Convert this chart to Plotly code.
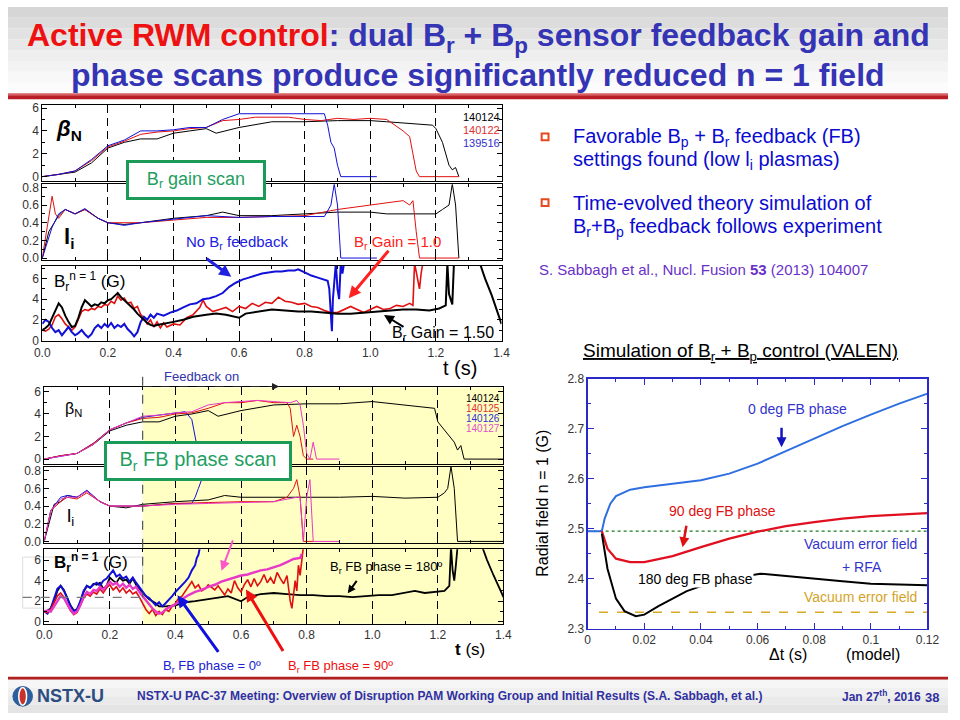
import plotly.graph_objects as go

W, H = 960, 720
def px(x): return x / W
def py(y): return 1 - y / H

SANS = "Liberation Sans, Arial, sans-serif"
NARROW = "Liberation Sans Narrow, Arial Narrow, Liberation Sans, sans-serif"

# ---------------- DATA ----------------
# Top group: Br gain scan
t_bn_a_140124 = [0, 0.05, 0.1, 0.15, 0.2, 0.25, 0.3, 0.35, 0.4, 0.45, 0.5, 0.53, 0.6, 0.7, 0.8, 0.9, 1.0, 1.05, 1.1, 1.15, 1.19, 1.2, 1.22, 1.24, 1.25, 1.26, 1.27]
bn_a_140124 = [0, 0.2, 0.4, 1.2, 2.5, 3.0, 3.3, 3.3, 3.8, 4.0, 4.2, 3.8, 4.3, 4.8, 4.8, 4.9, 4.9, 4.8, 4.7, 4.6, 4.5, 4.2, 3.0, 1.0, 0.6, 0.8, 0.0]
t_bn_a_140122 = [0, 0.05, 0.1, 0.15, 0.2, 0.25, 0.3, 0.35, 0.4, 0.45, 0.5, 0.55, 0.6, 0.65, 0.7, 0.75, 0.8, 0.85, 0.9, 0.95, 1.0, 1.05, 1.1, 1.12, 1.13, 1.14, 1.15, 1.27]
bn_a_140122 = [0, 0.2, 0.5, 1.4, 2.6, 3.1, 3.7, 3.9, 4.0, 4.2, 4.3, 4.9, 5.0, 5.2, 5.2, 5.2, 5.0, 4.9, 5.1, 5.0, 5.1, 5.0, 4.0, 3.5, 2.0, 0.5, 0.0, 0.0]
t_bn_a_139516 = [0, 0.05, 0.1, 0.15, 0.2, 0.25, 0.3, 0.35, 0.4, 0.45, 0.5, 0.55, 0.6, 0.65, 0.7, 0.75, 0.8, 0.86, 0.87, 0.88, 0.89, 0.9, 0.91, 1.02]
bn_a_139516 = [0, 0.2, 0.5, 1.5, 2.7, 3.2, 4.0, 4.0, 4.1, 4.3, 4.3, 5.0, 5.5, 5.5, 5.5, 5.5, 5.5, 5.5, 4.5, 3.0, 2.5, 1.0, 0.0, 0.0]

t_li_a_140124 = [0, 0.02, 0.05, 0.07, 0.1, 0.13, 0.17, 0.2, 0.25, 0.3, 0.4, 0.5, 0.55, 0.6, 0.7, 0.8, 0.9, 1.0, 1.05, 1.1, 1.2, 1.22, 1.24, 1.25, 1.26, 1.27]
li_a_140124 = [0, 0.3, 0.48, 0.55, 0.5, 0.55, 0.45, 0.4, 0.38, 0.4, 0.45, 0.48, 0.52, 0.48, 0.48, 0.5, 0.52, 0.52, 0.5, 0.5, 0.5, 0.55, 0.6, 0.84, 0.6, 0.0]
t_li_a_140122 = [0, 0.02, 0.03, 0.04, 0.05, 0.07, 0.1, 0.13, 0.17, 0.2, 0.3, 0.4, 0.5, 0.6, 0.7, 0.8, 0.9, 1.0, 1.05, 1.1, 1.12, 1.13, 1.14, 1.15, 1.27]
li_a_140122 = [0, 0.5, 0.7, 0.5, 0.45, 0.55, 0.5, 0.55, 0.45, 0.4, 0.4, 0.43, 0.46, 0.46, 0.47, 0.48, 0.55, 0.6, 0.62, 0.65, 0.6, 0.65, 0.3, 0.0, 0.0]
t_li_a_139516 = [0, 0.03, 0.05, 0.07, 0.1, 0.13, 0.17, 0.2, 0.25, 0.3, 0.4, 0.5, 0.6, 0.7, 0.86, 0.88, 0.89, 0.9, 0.91, 1.02]
li_a_139516 = [0, 0.35, 0.5, 0.55, 0.5, 0.56, 0.45, 0.4, 0.37, 0.4, 0.44, 0.48, 0.46, 0.47, 0.47, 0.6, 0.84, 0.6, 0.0, 0.0]

t_br_a_gain150 = [0.00, 0.01, 0.02, 0.03, 0.04, 0.05, 0.06, 0.07, 0.08, 0.09, 0.10, 0.11, 0.12, 0.13, 0.14, 0.15, 0.16, 0.17, 0.18, 0.19, 0.20, 0.21, 0.22, 0.23, 0.24, 0.25, 0.26, 0.27, 0.28, 0.29, 0.30, 0.31, 0.32, 0.33, 0.34, 0.35, 0.37, 0.40, 0.43, 0.46, 0.50, 0.53, 0.56, 0.60, 0.62, 0.66, 0.70, 0.74, 0.78, 0.82, 0.86, 0.90, 0.94, 0.98, 1.02, 1.06, 1.10, 1.14, 1.18, 1.21, 1.23, 1.235, 1.24, 1.25, 1.255, None, 1.335, 1.35, 1.37, 1.39, 1.40]
br_a_gain150 = [1.0, 1.2, 1.5, 2.2, 3.0, 3.6, 3.2, 2.4, 1.8, 1.3, 1.4, 2.2, 3.2, 3.9, 3.6, 3.3, 3.5, 3.4, 3.7, 3.6, 3.9, 4.0, 4.3, 4.6, 4.2, 3.9, 3.6, 3.4, 3.0, 2.6, 2.3, 2.0, 1.7, 1.5, 1.4, 1.5, 1.6, 1.8, 2.0, 2.3, 2.5, 2.6, 2.5, 2.2, 2.6, 2.8, 3.0, 2.9, 2.8, 2.8, 2.7, 2.6, 2.6, 2.7, 2.8, 2.9, 3.0, 3.0, 2.9, 3.1, 3.4, 7.5, 4.5, 3.5, 7.5, None, 7.4, 6.0, 4.4, 2.6, 1.6]
t_br_a_gain10 = [0.00, 0.01, 0.02, 0.03, 0.04, 0.05, 0.06, 0.07, 0.08, 0.09, 0.10, 0.11, 0.12, 0.13, 0.14, 0.15, 0.16, 0.17, 0.18, 0.19, 0.20, 0.21, 0.22, 0.23, 0.24, 0.25, 0.26, 0.27, 0.28, 0.29, 0.30, 0.31, 0.32, 0.33, 0.34, 0.35, 0.36, 0.37, 0.38, 0.40, 0.42, 0.44, 0.46, 0.48, 0.49, 0.50, 0.52, 0.54, 0.56, 0.58, 0.60, 0.62, 0.64, 0.66, 0.68, 0.70, 0.72, 0.74, 0.76, 0.78, 0.80, 0.82, 0.84, 0.86, 0.88, 0.90, 0.92, 0.94, 0.96, 0.98, 1.00, 1.02, 1.04, 1.06, 1.08, 1.10, 1.12, 1.13, 1.135, 1.145, 1.15, 1.155, 1.16]
br_a_gain10 = [1.0, 0.9, 1.1, 1.5, 2.3, 2.5, 2.1, 1.6, 1.3, 1.0, 1.3, 2.0, 2.8, 3.0, 2.9, 3.1, 3.0, 3.3, 3.2, 3.5, 3.4, 3.8, 3.6, 4.3, 3.9, 4.1, 3.6, 3.7, 3.1, 3.3, 2.5, 2.2, 1.6, 2.0, 1.3, 1.8, 1.2, 1.7, 1.3, 1.6, 1.5, 2.2, 2.5, 3.2, 3.9, 3.3, 2.8, 3.0, 3.2, 2.8, 3.3, 3.1, 3.6, 3.3, 3.7, 3.6, 4.2, 3.8, 3.7, 3.5, 3.6, 3.3, 3.2, 2.9, 2.7, 2.7, 3.0, 3.3, 3.0, 2.7, 3.0, 3.3, 3.0, 3.1, 3.4, 3.3, 3.6, 3.4, 7.5, 6.0, 5.0, 6.5, 7.5]
t_br_a_nofb = [0.00, 0.01, 0.02, 0.03, 0.04, 0.05, 0.06, 0.07, 0.08, 0.09, 0.10, 0.11, 0.12, 0.13, 0.14, 0.15, 0.16, 0.17, 0.18, 0.19, 0.20, 0.21, 0.22, 0.23, 0.24, 0.25, 0.26, 0.27, 0.28, 0.29, 0.30, 0.31, 0.32, 0.33, 0.34, 0.35, 0.37, 0.39, 0.41, 0.43, 0.45, 0.47, 0.49, 0.51, 0.53, 0.55, 0.57, 0.59, 0.61, 0.63, 0.65, 0.67, 0.69, 0.71, 0.73, 0.75, 0.77, 0.78, 0.80, 0.82, 0.84, 0.86, 0.87, 0.875, 0.88, 0.883, 0.886, 0.89, 0.895, 0.90, 0.905, 0.91, 0.915, 0.92]
br_a_nofb = [1.6, 2.0, 1.8, 1.2, 0.8, 1.0, 0.5, 0.9, 1.3, 0.8, 0.5, 0.7, 1.0, 0.6, 0.3, 0.6, 1.2, 1.5, 1.2, 1.6, 1.3, 1.7, 1.2, 1.5, 1.3, 1.6, 1.1, 0.8, 0.4, 0.8, 1.8, 2.3, 2.0, 2.5, 2.2, 2.6, 2.4, 2.7, 2.9, 3.2, 3.5, 3.6, 4.0, 4.1, 4.3, 4.6, 5.2, 5.6, 5.9, 6.1, 6.3, 6.5, 6.6, 6.7, 6.7, 6.8, 6.8, 6.9, 6.6, 6.3, 6.1, 5.9, 5.8, 5.0, 2.6, 0.9, 4.0, 5.5, 7.5, 5.0, 4.0, 7.5, 6.5, 7.5]

# Bottom group: Br FB phase scan
t_bn_b_140124 = [0, 0.05, 0.1, 0.15, 0.2, 0.25, 0.3, 0.35, 0.4, 0.45, 0.5, 0.53, 0.6, 0.7, 0.8, 0.9, 1.0, 1.1, 1.19, 1.2, 1.25, 1.26, 1.27, 1.28, 1.4]
bn_b_140124 = [0, 0.3, 0.5, 1.3, 2.5, 3.0, 3.3, 3.3, 3.8, 4.0, 4.3, 3.8, 4.3, 4.8, 4.9, 4.9, 5.1, 4.8, 4.5, 3.3, 1.5, 0.8, 1.2, 0.0, 0.0]
t_bn_b_140125 = [0, 0.05, 0.1, 0.15, 0.2, 0.25, 0.3, 0.35, 0.4, 0.45, 0.5, 0.55, 0.6, 0.65, 0.7, 0.74, 0.75, 0.76, 0.77, 0.78, 0.79, 0.8, 0.82]
bn_b_140125 = [0, 0.3, 0.5, 1.4, 2.6, 3.2, 3.6, 3.7, 4.0, 4.1, 4.5, 5.0, 5.0, 5.2, 5.0, 5.0, 4.5, 2.0, 3.0, 2.0, 0.3, 0.0, 0.0]
t_bn_b_140126 = [0, 0.1, 0.15, 0.2, 0.25, 0.3, 0.35, 0.4, 0.43, 0.45, 0.46, 0.47, 0.48]
bn_b_140126 = [0, 0.5, 1.4, 2.6, 3.2, 3.7, 3.9, 4.1, 4.2, 3.5, 2.0, 0.5, -1.0]
t_bn_b_140127 = [0, 0.1, 0.15, 0.2, 0.25, 0.3, 0.35, 0.4, 0.45, 0.5, 0.55, 0.6, 0.65, 0.7, 0.75, 0.77, 0.78, 0.79, 0.8, 0.81, 0.82, 0.83, 0.9]
bn_b_140127 = [0, 0.5, 1.3, 2.6, 3.2, 3.8, 3.9, 4.1, 4.2, 4.8, 5.0, 5.1, 5.2, 5.1, 5.0, 5.2, 4.8, 3.0, 0.5, 0.0, 1.5, 0.0, 0.0]

t_li_b_140124 = [0, 0.02, 0.03, 0.05, 0.07, 0.1, 0.13, 0.17, 0.2, 0.25, 0.3, 0.4, 0.5, 0.55, 0.6, 0.7, 0.8, 0.9, 1.0, 1.05, 1.1, 1.2, 1.22, 1.23, 1.24, 1.25, 1.26, 1.4]
li_b_140124 = [0, 0.3, 0.42, 0.45, 0.52, 0.5, 0.57, 0.45, 0.4, 0.38, 0.42, 0.45, 0.47, 0.52, 0.5, 0.5, 0.5, 0.5, 0.51, 0.5, 0.49, 0.5, 0.55, 0.6, 0.85, 0.6, 0.0, 0.0]
t_li_b_140125 = [0, 0.02, 0.05, 0.07, 0.1, 0.13, 0.17, 0.2, 0.3, 0.4, 0.5, 0.6, 0.7, 0.74, 0.76, 0.77, 0.78, 0.79, 0.82]
li_b_140125 = [0, 0.35, 0.45, 0.5, 0.48, 0.55, 0.45, 0.4, 0.4, 0.43, 0.44, 0.45, 0.45, 0.5, 0.6, 0.7, 0.5, 0.0, 0.0]
t_li_b_140126 = [0, 0.02, 0.05, 0.07, 0.1, 0.13, 0.17, 0.2, 0.3, 0.4, 0.45, 0.46, 0.47, 0.48, 0.485]
li_b_140126 = [0, 0.35, 0.5, 0.52, 0.5, 0.58, 0.45, 0.4, 0.4, 0.43, 0.43, 0.5, 0.6, 0.7, 0.9]
t_li_b_140127 = [0, 0.02, 0.05, 0.07, 0.1, 0.13, 0.17, 0.2, 0.3, 0.4, 0.5, 0.6, 0.7, 0.77, 0.78, 0.79, 0.8, 0.81, 0.82, 0.9]
li_b_140127 = [0, 0.35, 0.48, 0.5, 0.5, 0.57, 0.45, 0.4, 0.4, 0.42, 0.43, 0.44, 0.45, 0.5, 0.5, 0.0, 0.5, 0.7, 0.0, 0.0]

t_br_b_180 = [0.00, 0.01, 0.02, 0.03, 0.04, 0.05, 0.06, 0.07, 0.08, 0.09, 0.10, 0.11, 0.12, 0.13, 0.14, 0.15, 0.16, 0.17, 0.18, 0.19, 0.20, 0.21, 0.22, 0.23, 0.24, 0.25, 0.26, 0.27, 0.28, 0.29, 0.30, 0.31, 0.32, 0.33, 0.34, 0.35, 0.37, 0.40, 0.43, 0.46, 0.50, 0.53, 0.56, 0.60, 0.62, 0.66, 0.70, 0.74, 0.78, 0.82, 0.86, 0.90, 0.94, 0.98, 1.02, 1.06, 1.10, 1.13, 1.16, 1.19, 1.22, 1.235, 1.24, 1.245, 1.25, 1.255, 1.26, None, 1.335, 1.35, 1.37, 1.39, 1.40]
br_b_180 = [1.0, 1.1, 1.3, 2.0, 3.0, 3.5, 3.1, 2.4, 1.6, 1.1, 1.2, 1.9, 2.9, 3.5, 3.3, 3.7, 3.6, 3.8, 3.2, 3.5, 4.3, 4.0, 3.8, 4.3, 4.0, 4.1, 3.7, 4.2, 3.6, 3.2, 2.8, 2.5, 2.2, 2.0, 1.8, 1.5, 1.5, 1.6, 1.9, 2.0, 2.2, 2.3, 2.5, 2.0, 2.4, 2.7, 2.8, 2.7, 2.6, 2.6, 2.5, 2.5, 2.4, 2.5, 2.6, 2.6, 2.8, 3.0, 2.8, 2.9, 3.0, 3.5, 7.3, 5.0, 4.0, 5.5, 7.3, None, 7.3, 6.0, 4.5, 3.2, 2.4]
t_br_b_0 = [0.00, 0.01, 0.02, 0.03, 0.04, 0.05, 0.06, 0.07, 0.08, 0.09, 0.10, 0.11, 0.12, 0.13, 0.14, 0.15, 0.16, 0.17, 0.18, 0.19, 0.20, 0.21, 0.22, 0.23, 0.24, 0.25, 0.26, 0.27, 0.28, 0.29, 0.30, 0.31, 0.32, 0.33, 0.34, 0.35, 0.36, 0.37, 0.38, 0.39, 0.40, 0.41, 0.42, 0.43, 0.44, 0.45, 0.46, 0.465, 0.47, 0.475]
br_b_0 = [1.0, 0.8, 1.3, 2.2, 3.2, 3.5, 3.0, 2.3, 1.5, 1.0, 1.2, 2.0, 3.0, 3.5, 3.3, 3.6, 3.8, 3.5, 4.0, 4.2, 4.6, 5.0, 4.4, 4.6, 4.2, 4.4, 3.9, 4.3, 3.8, 3.4, 3.0, 2.5, 2.3, 2.0, 1.6, 1.9, 1.5, 1.8, 2.1, 2.5, 2.9, 3.2, 3.5, 3.9, 4.3, 5.0, 5.5, 6.2, 6.5, 7.3]
t_br_b_90 = [0.00, 0.01, 0.02, 0.03, 0.04, 0.05, 0.06, 0.07, 0.08, 0.09, 0.10, 0.11, 0.12, 0.13, 0.14, 0.15, 0.16, 0.17, 0.18, 0.19, 0.20, 0.21, 0.22, 0.23, 0.24, 0.25, 0.26, 0.27, 0.28, 0.29, 0.30, 0.31, 0.32, 0.33, 0.34, 0.35, 0.36, 0.37, 0.38, 0.39, 0.40, 0.41, 0.42, 0.43, 0.44, 0.45, 0.46, 0.47, 0.48, 0.49, 0.50, 0.51, 0.52, 0.53, 0.54, 0.55, 0.56, 0.57, 0.58, 0.59, 0.60, 0.61, 0.62, 0.63, 0.64, 0.65, 0.66, 0.67, 0.68, 0.69, 0.70, 0.71, 0.72, 0.73, 0.74, 0.745, 0.75, 0.755, 0.76, 0.765, 0.77, 0.775, 0.78, 0.785, 0.79]
br_b_90 = [1.0, 0.9, 1.2, 1.8, 2.5, 2.8, 2.4, 1.7, 1.1, 0.7, 0.9, 1.6, 2.3, 2.7, 2.5, 2.9, 2.7, 3.2, 2.8, 3.3, 3.6, 3.1, 3.4, 2.9, 3.3, 2.8, 3.1, 2.7, 2.9, 2.4, 1.8, 1.2, 0.8, 1.2, 0.6, 1.0, 0.7, 1.2, 1.0, 1.5, 1.8, 2.3, 2.5, 3.0, 3.5, 3.9, 3.3, 3.6, 3.0, 3.2, 3.6, 3.3, 3.1, 3.5, 3.0, 2.6, 3.2, 2.8, 4.0, 3.3, 2.9, 3.6, 4.1, 3.4, 4.2, 3.5, 3.9, 4.6, 3.8, 4.3, 3.7, 4.8, 4.2, 3.7, 4.5, 3.0, 2.0, 1.3, 2.5, 4.0, 3.0, 5.5, 4.5, 6.5, 7.3]
t_br_b_mag = [0.00, 0.01, 0.02, 0.03, 0.04, 0.05, 0.06, 0.07, 0.08, 0.09, 0.10, 0.11, 0.12, 0.13, 0.14, 0.15, 0.16, 0.17, 0.18, 0.19, 0.20, 0.21, 0.22, 0.23, 0.24, 0.25, 0.26, 0.27, 0.28, 0.29, 0.30, 0.31, 0.32, 0.33, 0.34, 0.35, 0.36, 0.37, 0.38, 0.40, 0.42, 0.44, 0.46, 0.48, 0.50, 0.52, 0.54, 0.56, 0.58, 0.60, 0.62, 0.64, 0.66, 0.68, 0.70, 0.72, 0.74, 0.76, 0.78, 0.785]
br_b_mag = [1.0, 1.1, 1.0, 1.5, 2.1, 2.5, 2.3, 1.7, 1.2, 0.8, 1.0, 1.6, 2.4, 2.9, 2.7, 3.1, 3.0, 3.4, 3.1, 3.5, 3.9, 3.6, 3.8, 3.4, 3.7, 3.3, 3.6, 3.2, 3.4, 2.9, 2.5, 2.0, 1.6, 1.3, 1.0, 0.8, 0.9, 1.2, 1.4, 1.7, 2.2, 2.6, 2.9, 3.1, 3.4, 3.6, 3.9, 4.1, 4.3, 4.5, 4.6, 4.8, 5.0, 5.1, 5.3, 5.5, 5.8, 6.1, 6.2, 6.6]

# VALEN simulation
t_sim_0 = [0.0, 0.005, 0.006, 0.008, 0.01, 0.015, 0.02, 0.03, 0.04, 0.05, 0.06, 0.07, 0.08, 0.09, 0.1, 0.11, 0.12]
sim_0 = [2.495, 2.495, 2.52, 2.55, 2.565, 2.578, 2.583, 2.59, 2.597, 2.61, 2.63, 2.655, 2.68, 2.705, 2.728, 2.75, 2.77]
t_sim_90 = [0.005, 0.007, 0.01, 0.015, 0.02, 0.03, 0.04, 0.05, 0.06, 0.07, 0.08, 0.09, 0.1, 0.11, 0.12]
sim_90 = [2.495, 2.46, 2.44, 2.433, 2.433, 2.445, 2.463, 2.48, 2.494, 2.505, 2.513, 2.52, 2.525, 2.528, 2.531]
t_sim_180 = [0.005, 0.007, 0.01, 0.013, 0.017, 0.02, 0.025, 0.03, 0.035, 0.04, 0.05, 0.061, 0.07, 0.08, 0.09, 0.1, 0.11, 0.12]
sim_180 = [2.49, 2.42, 2.36, 2.335, 2.325, 2.328, 2.345, 2.36, 2.375, 2.385, 2.4, 2.41, 2.405, 2.4, 2.395, 2.39, 2.388, 2.387]
t_vac_rfa = [0.0, 0.12]
vac_rfa = [2.495, 2.495]
t_vac = [0.004, 0.12]
vac = [2.333, 2.333]

# tick values
x_ticks_t = [0, 0.2, 0.4, 0.6, 0.8, 1.0, 1.2, 1.4]
y_ticks_bn = [0, 2, 4, 6]
y_ticks_li = [0.0, 0.2, 0.4, 0.6, 0.8]
y_ticks_br = [0, 2, 4, 6]
x_ticks_sim = [0, 0.02, 0.04, 0.06, 0.08, 0.1, 0.12]
y_ticks_sim = [2.3, 2.4, 2.5, 2.6, 2.7, 2.8]

# ---------------- FIGURE ----------------
fig = go.Figure()

BLACK, RED, BLUE, MAG = "#000000", "#e01010", "#1010d8", "#e838c8"

def add(x, y, ax, color, w=1.0, dash=None):
    fig.add_trace(go.Scatter(x=x, y=y, mode="lines", xaxis="x" + ax, yaxis="y" + ax,
                             line=dict(color=color, width=w, dash=dash),
                             showlegend=False, hoverinfo="skip", connectgaps=False))

# top group
add(t_bn_a_140124, bn_a_140124, "", BLACK)
add(t_bn_a_140122, bn_a_140122, "", RED)
add(t_bn_a_139516, bn_a_139516, "", BLUE)
add(t_li_a_140124, li_a_140124, "2", BLACK)
add(t_li_a_140122, li_a_140122, "2", RED)
add(t_li_a_139516, li_a_139516, "2", BLUE)
add(t_br_a_gain10, br_a_gain10, "3", RED, 1.6)
add(t_br_a_nofb, br_a_nofb, "3", BLUE, 2)
add(t_br_a_gain150, br_a_gain150, "3", BLACK, 2)
# bottom group
add(t_bn_b_140124, bn_b_140124, "4", BLACK)
add(t_bn_b_140126, bn_b_140126, "4", BLUE)
add(t_bn_b_140125, bn_b_140125, "4", RED)
add(t_bn_b_140127, bn_b_140127, "4", MAG)
add(t_li_b_140124, li_b_140124, "5", BLACK)
add(t_li_b_140126, li_b_140126, "5", BLUE)
add(t_li_b_140125, li_b_140125, "5", RED)
add(t_li_b_140127, li_b_140127, "5", MAG)
add(t_br_b_180, br_b_180, "6", BLACK, 1.8)
add(t_br_b_0, br_b_0, "6", BLUE, 2)
add(t_br_b_90, br_b_90, "6", RED, 1.6)
add(t_br_b_mag, br_b_mag, "6", MAG, 2.4)
# simulation
add(t_vac_rfa, vac_rfa, "7", "#1a7a1a", 1.2, "dot")
add(t_vac, vac, "7", "#d8a828", 1.5, "dash")
add(t_sim_0, sim_0, "7", "#2f6fe0", 2)
add(t_sim_90, sim_90, "7", "#e01020", 2.2)
add(t_sim_180, sim_180, "7", BLACK, 2)

TICKF = dict(size=12, color="#333333", family=SANS)

def xax(x0, x1, anchor, labels):
    return dict(domain=[px(x0), px(x1)], range=[0, 1.4], anchor=anchor,
                showline=True, linecolor="black", linewidth=1, mirror="allticks",
                ticks="inside", ticklen=5, tickcolor="black", tickmode="array",
                tickvals=x_ticks_t, ticktext=["%.1f" % v for v in x_ticks_t],
                showticklabels=labels, tickfont=TICKF,
                showgrid=True, gridcolor="black", griddash="8px,5px", gridwidth=1,
                zeroline=False,
                minor=dict(dtick=0.1, tick0=0, ticks="inside", ticklen=3, tickcolor="black", showgrid=False))

def yax(top, bot, anchor, rng, vals, fmt, mdt):
    return dict(domain=[py(bot), py(top)], range=rng, anchor=anchor,
                showline=True, linecolor="black", linewidth=1, mirror="allticks",
                ticks="inside", ticklen=5, tickcolor="black", tickmode="array",
                tickvals=vals, ticktext=[fmt % v for v in vals], tickfont=TICKF,
                showgrid=False, zeroline=False,
                minor=dict(dtick=mdt, tick0=0, ticks="inside", ticklen=3, tickcolor="black", showgrid=False))

L1, R1 = 35, 504
L2, R2 = 37, 506
layout_axes = dict(
    xaxis=xax(L1, R1, "y", False),
    yaxis=yax(100, 177, "x", [-0.34, 6.26], y_ticks_bn, "%d", 1),
    xaxis2=xax(L1, R1, "y2", False),
    yaxis2=yax(181, 258, "x2", [-0.022, 0.833], y_ticks_li, "%.1f", 0.1),
    xaxis3=xax(L1, R1, "y3", True),
    yaxis3=yax(264, 341, "x3", [-0.095, 7.24], y_ticks_br, "%d", 1),
    xaxis4=xax(L2, R2, "y4", False),
    yaxis4=yax(388, 466, "x4", [-0.43, 6.35], y_ticks_bn, "%d", 1),
    xaxis5=xax(L2, R2, "y5", False),
    yaxis5=yax(469, 547, "x5", [-0.022, 0.844], y_ticks_li, "%.1f", 0.1),
    xaxis6=xax(L2, R2, "y6", True),
    yaxis6=yax(553, 629, "x6", [-0.19, 7.05], y_ticks_br, "%d", 1),
    xaxis7=dict(domain=[px(592), px(939)], range=[0, 0.12], anchor="y7",
                showline=True, linecolor="#2a2ac8", linewidth=1.2, mirror="allticks",
                ticks="inside", ticklen=6, tickcolor="#2a2ac8", tickmode="array",
                tickvals=x_ticks_sim, ticktext=["0", "0.02", "0.04", "0.06", "0.08", "0.1", "0.12"],
                tickfont=TICKF, showgrid=False, zeroline=False,
                minor=dict(dtick=0.01, tick0=0, ticks="inside", ticklen=3, tickcolor="#2a2ac8")),
    yaxis7=dict(domain=[py(634), py(379)], range=[2.3, 2.8], anchor="x7",
                showline=True, linecolor="#2a2ac8", linewidth=1.2, mirror="allticks",
                ticks="inside", ticklen=6, tickcolor="#2a2ac8", tickmode="array",
                tickvals=y_ticks_sim, ticktext=["%.1f" % v for v in y_ticks_sim],
                tickfont=TICKF, showgrid=False, zeroline=False,
                minor=dict(dtick=0.05, tick0=2.3, ticks="inside", ticklen=3, tickcolor="#2a2ac8")),
)

# ---------------- SHAPES ----------------
shapes = []
def rect(x0, y0, x1, y1, fill, line=None, lw=0, layer="below"):
    shapes.append(dict(type="rect", xref="paper", yref="paper", x0=px(x0), x1=px(x1),
                       y0=py(y1), y1=py(y0), fillcolor=fill, layer=layer,
                       line=dict(color=line or fill, width=lw)))

# title gradient
grad = ["#d6d6d6", "#dcdcdc", "#e2e2e2", "#e8e8e8", "#eeeeee", "#f3f3f3", "#f8f8f8", "#fcfcfc"]
for i, c in enumerate(grad):
    rect(0, i * 11, 960, (i + 1) * 11, c)
rect(0, 88, 960, 90, "#d86060")
rect(0, 90, 960, 94, "#b81c24")
# footer
rect(0, 683, 960, 686, "#b02020")
fg = ["#f6f6f6", "#f0f0f0", "#eaeaea", "#e4e4e4"]
for i, c in enumerate(fg):
    rect(0, 686 + i * 8.5, 960, 686 + (i + 1) * 8.5, c)
# yellow feedback region
x03 = L2 + 0.3 / 1.4 * (R2 - L2)
rect(x03, 388, R2, 629, "#ffffc4")
# feedback-on dashed vertical and arrow
shapes.append(dict(type="line", xref="paper", yref="paper", x0=px(x03), x1=px(x03),
                   y0=py(377), y1=py(602), line=dict(color="#555555", width=1.2, dash="dash"), layer="above"))
shapes.append(dict(type="line", xref="paper", yref="paper", x0=px(x03), x1=px(268),
                   y0=py(387), y1=py(387), line=dict(color="#222222", width=1.2, dash="dash"), layer="above"))
shapes.append(dict(type="line", xref="paper", yref="paper", x0=px(15), x1=px(x03),
                   y0=py(602), y1=py(602), line=dict(color="#777777", width=1.2, dash="dash"), layer="above"))
shapes.append(dict(type="rect", xref="paper", yref="paper", x0=px(15), x1=px(x03),
                   y0=py(613), y1=py(561), line=dict(color="#dddddd", width=1), layer="below"))
# bullets
for yb in (133, 200):
    rect(545, yb - 4, 552, yb + 3, "white", "#e8481c", 2, "above")
# logo
shapes.append(dict(type="circle", xref="paper", yref="paper", x0=px(5), x1=px(25), y0=py(713), y1=py(693),
                   fillcolor="#2c5d9c", line=dict(color="#2c5d9c", width=1)))
shapes.append(dict(type="circle", xref="paper", yref="paper", x0=px(11), x1=px(19), y0=py(712), y1=py(694),
                   fillcolor="#c8322a", line=dict(color="white", width=1.5)))

# ---------------- ANNOTATIONS ----------------
ann = []
def T(x, y, s, size, color="black", xa="center", ya="middle", fam=SANS, **kw):
    ann.append(dict(x=px(x), y=py(y), xref="paper", yref="paper", text=s, showarrow=False,
                    xanchor=xa, yanchor=ya, font=dict(size=size, color=color, family=fam), **kw))

def A(x0, y0, x1, y1, color, w=2, head=2, size=1.0):
    ann.append(dict(x=px(x1), y=py(y1), xref="paper", yref="paper", ax=x0 - x1, ay=y0 - y1,
                    text="", showarrow=True, arrowhead=head, arrowwidth=w, arrowcolor=color,
                    arrowsize=size, standoff=0))

TB = "#3434b4"
T(480, 31, "<b><span style='color:#ee1111'>Active RWM control</span>: dual B<sub>r</sub> + B<sub>p</sub> sensor feedback gain and</b>",
  32, TB, fam=NARROW)
T(480, 69, "<b>phase scans produce significantly reduced n = 1 field</b>", 32, TB, fam=NARROW)

# top group labels
T(62, 125, "<b><i>β</i><sub>N</sub></b>", 22)
T(504, 112, "140124", 11, BLACK, xa="right")
T(504, 125, "140122", 11, "#e03030", xa="right")
T(504, 139, "139516", 11, "#3030d0", xa="right")
T(62, 236, "<b>l<sub>i</sub></b>", 22)
T(45, 280, "B<sub>r</sub><sup>n = 1</sup> (G)", 17, xa="left")
T(192, 176, "B<sub>r</sub> gain scan", 18, "#22a060", bgcolor="white", bordercolor="#1c9a58",
  borderwidth=3, borderpad=3, width=128, height=28)
T(234, 240, "No B<sub>r</sub> feedback", 15, "#2020e0")
A(202, 256, 228, 275, "#2020e0", 3, 2, 0.8)
T(398, 240, "B<sub>r</sub> Gain = 1.0", 15, "#ff2020")
A(389, 248, 348, 297, "#ff2020", 3, 2, 0.8)
T(444, 333, "B<sub>r</sub> Gain = 1.50", 16, BLACK)
A(405, 327, 384, 314, BLACK, 2, 2, 1)
T(462, 368, "t (s)", 20)

# bottom group labels
T(198, 377, "Feedback on", 13, "#3333aa")
A(265, 387, 277, 387, "#222222", 1.2, 2, 1.2)
T(67, 410, "β<sub>N</sub>", 16)
T(504, 399, "140124", 10, BLACK, xa="right")
T(504, 409, "140125", 10, "#e03030", xa="right")
T(504, 420, "140126", 10, "#3030d0", xa="right")
T(504, 430, "140127", 10, "#e050c8", xa="right")
T(194, 463, "B<sub>r</sub> FB phase scan", 20, "#22a060", bgcolor="white", bordercolor="#1c9a58",
  borderwidth=3, borderpad=3, width=176, height=28)
T(64, 520, "l<sub>i</sub>", 19)
T(45, 567, "<b>B<sub>r</sub><sup>n = 1</sup></b> (G)", 17, xa="left")
T(386, 572, "B<sub>r</sub> FB phase = 180º", 13, BLACK)
A(357, 584, 347, 598, BLACK, 2, 2, 0.8)
A(230, 543, 218, 575, "#ff55cc", 2, 2, 1)
A(215, 658, 173, 600, "#1010e0", 3, 2, 0.8)
A(281, 657, 243, 594, "#ee1010", 3, 2, 0.8)
T(208, 673, "B<sub>r</sub> FB phase = 0º", 13, "#2020d0")
T(340, 673, "B<sub>r</sub> FB phase = 90º", 13, "#ee1010")
T(472, 655, "<b>t</b> (s)", 17)

# right text
BT = "#0a0ad0"
T(575, 133, "Favorable B<sub>p</sub> + B<sub>r</sub> feedback (FB)", 20, BT, xa="left")
T(575, 157, "settings found (low l<sub>i</sub> plasmas)", 20, BT, xa="left")
T(575, 200, "Time-evolved theory simulation of", 20, BT, xa="left")
T(575, 225, "B<sub>r</sub>+B<sub>p</sub> feedback follows experiment", 20, BT, xa="left")
T(540, 268, "S. Sabbagh et al., Nucl. Fusion <b>53</b> (2013) 104007", 15, "#6a30c8", xa="left")

# simulation labels
T(748, 352, "<u>Simulation of B<sub>r</sub> + B<sub>p</sub> control (VALEN)</u>", 19)
T(806, 410, "0 deg FB phase", 14, "#3333cc")
A(790, 428, 790, 449, "#1515c0", 2.5, 2, 0.8)
T(730, 514, "90 deg FB phase", 14, "#e01010")
A(693, 528, 689, 551, "#e01010", 2.5, 2, 0.8)
T(930, 548, "Vacuum error field", 14, "#3333cc", xa="right")
T(872, 571, "+ RFA", 14, "#3333cc")
T(702, 583, "180 deg FB phase", 14, BLACK, bgcolor="white", borderpad=0)
T(930, 602, "Vacuum error field", 14, "#d4a428", xa="right")
T(546, 506, "Radial field n = 1 (G)", 16, textangle=-90)
T(797, 660, "Δt (s)", 16)
T(883, 660, "(model)", 16)

# footer
T(28, 703, "<b>NSTX-U</b>", 18, "#2c4d80", xa="left", fam=NARROW)
T(130, 703, "<b>NSTX-U PAC-37 Meeting: Overview of Disruption PAM Working Group and Initial Results (S.A. Sabbagh, et al.)</b>",
  12, "#3030a0", xa="left", fam=NARROW)
T(850, 703, "<b>Jan 27<sup>th</sup>, 2016</b>", 12, "#3030a0", xa="left", fam=NARROW)
T(944, 704, "<b>38</b>", 13, "#3030a0", fam=NARROW)

fig.update_layout(width=W, height=H, margin=dict(l=0, r=0, t=0, b=0),
                  paper_bgcolor="white", plot_bgcolor="rgba(0,0,0,0)",
                  shapes=shapes, annotations=ann, showlegend=False,
                  font=dict(family=SANS), **layout_axes)

fig.write_html("out.html", config={"displayModeBar": False, "staticPlot": True},
               post_script="document.body.style.margin='0';document.body.style.overflow='hidden';")
